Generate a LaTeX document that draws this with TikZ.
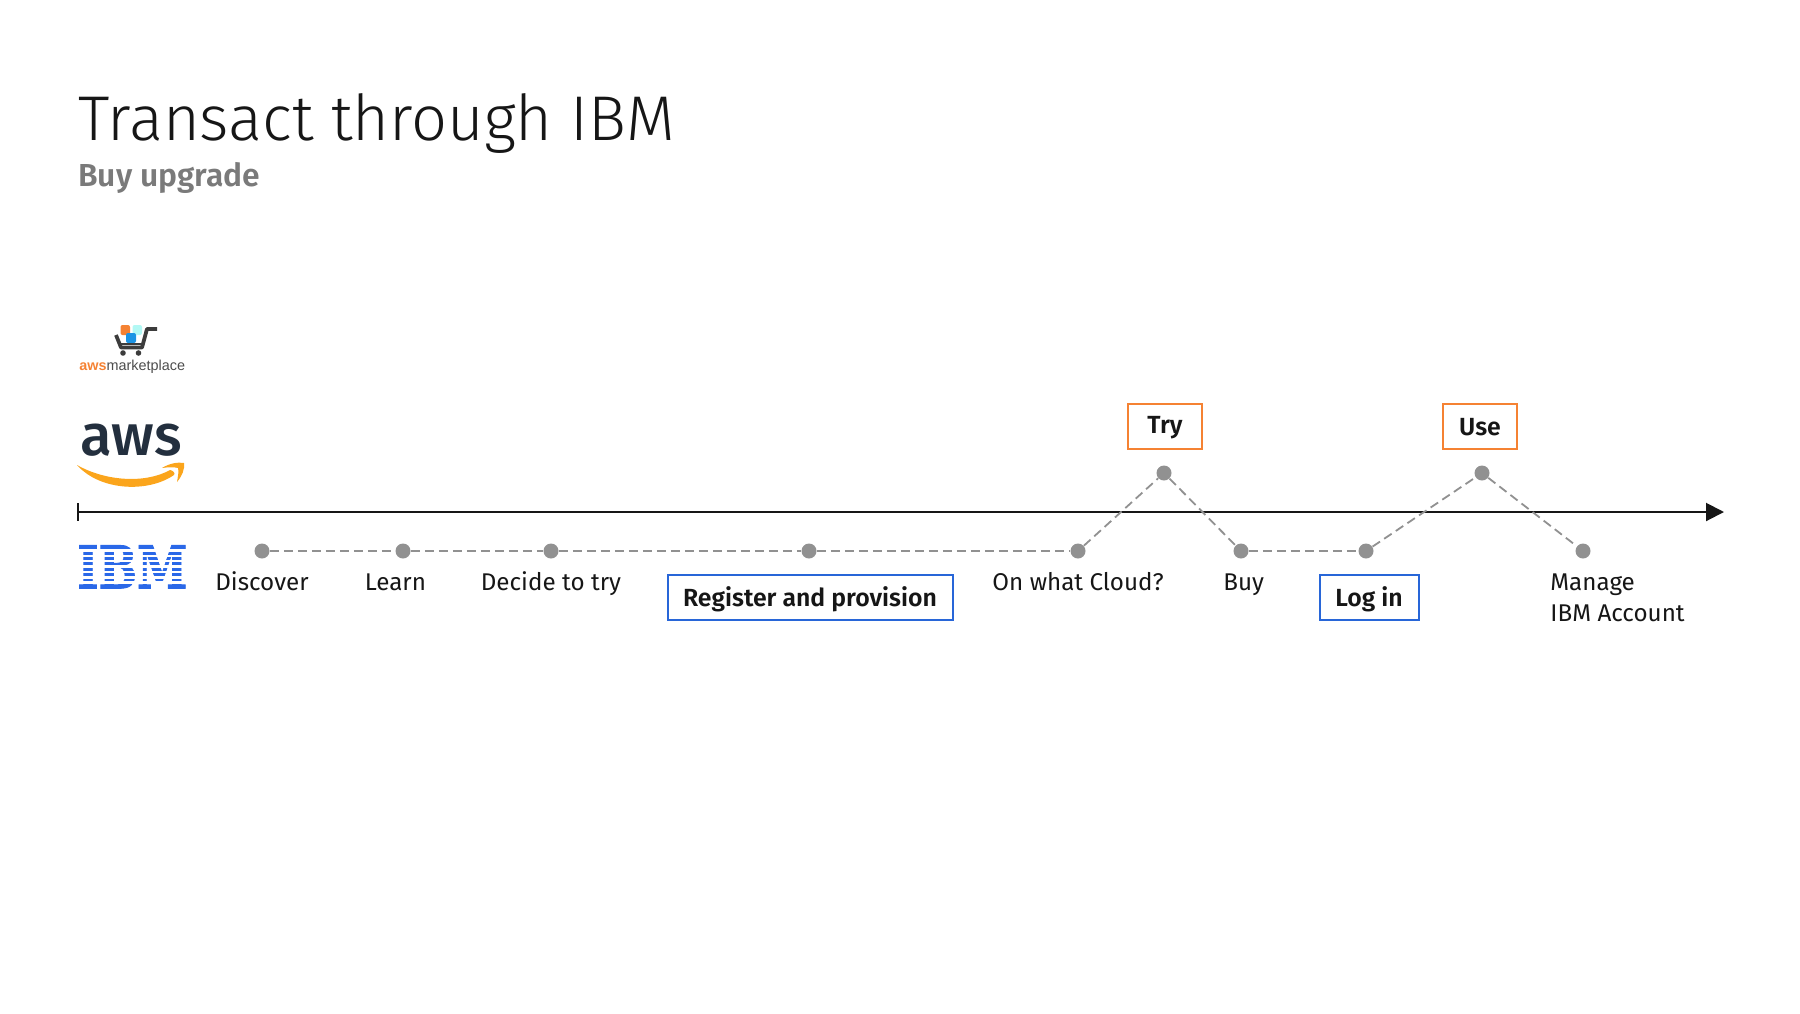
\documentclass[tikz,border=0pt]{standalone}
\usepackage{fontspec}
\usepackage{graphicx}
\setmainfont{Fira Sans}
\newfontfamily\lightfont{Fira Sans Light}
\newfontfamily\semifont{Fira Sans SemiBold}
\newfontfamily\logofont{Liberation Sans}
\newfontfamily\awsfont{Fira Sans Medium}
\newfontfamily\slabfont[FakeBold=1.5]{DejaVu Serif Bold}
\usetikzlibrary{arrows.meta}
\definecolor{inkblack}{HTML}{161616}
\definecolor{subgray}{HTML}{7A7A7A}
\definecolor{dotgray}{HTML}{919191}
\definecolor{boxorange}{HTML}{F58233}
\definecolor{boxblue}{HTML}{2866D8}
\definecolor{ibmblue}{HTML}{2A68E8}
\definecolor{awsnavy}{HTML}{232F3E}
\definecolor{awsorange}{HTML}{FBA51C}
\definecolor{cartgray}{HTML}{3C3C3C}
\tikzset{
  stepdot/.style={circle,fill=dotgray,inner sep=0pt,minimum size=7.5pt},
  stepline/.style={dotgray,line width=0.9pt,dash pattern=on 4.5pt off 2.5pt},
  steplabel/.style={anchor=base west,inner sep=0pt,text=inkblack,font=\fontsize{12.1}{15.5}\selectfont,align=left},
  tagbox/.style={draw,line width=1pt,fill=white,inner sep=0pt,minimum height=22.5pt,text height=11pt,text depth=2.5pt,text=inkblack,font=\semifont\fontsize{12.4}{14}\selectfont},
  tryuse/.style={tagbox,draw=boxorange,minimum width=37pt},
  reglog/.style={tagbox,draw=boxblue},
  cartbox/.style={rounded corners=1pt}
}
\begin{document}
\begin{tikzpicture}[x=0.5pt,y=-0.5pt]
\useasboundingbox (0,0) rectangle (1800,1013);

% Title
\node[anchor=base west,inner sep=0pt,text=inkblack,font=\lightfont\fontsize{31.6}{38}\selectfont] (title) at (78,140) {Transact through IBM};
\node[anchor=base west,inner sep=0pt,text=subgray,font=\semifont\fontsize{15.9}{20}\selectfont] (subtitle) at (78,186) {Buy upgrade};

% Timeline
\coordinate (axisstart) at (78,512);
\coordinate (axisend) at (1724,512);
\coordinate (ticktop) at (78,503);
\coordinate (tickbot) at (78,521);
\draw[inkblack,line width=1pt,-{Triangle[length=9pt,width=9pt]}] (axisstart) -- (axisend);
\draw[inkblack,line width=1pt] (ticktop) -- (tickbot);

% Steps
\node[stepdot] (discover) at (262,551) {};
\node[stepdot] (learn) at (403,551) {};
\node[stepdot] (decide) at (551,551) {};
\node[stepdot] (register) at (809,551) {};
\node[stepdot] (cloud) at (1078,551) {};
\node[stepdot] (try) at (1164,473) {};
\node[stepdot] (buy) at (1241,551) {};
\node[stepdot] (login) at (1366,551) {};
\node[stepdot] (use) at (1482,473) {};
\node[stepdot] (manage) at (1583,551) {};

% Dashed path
\draw[stepline] (discover) -- (learn);
\draw[stepline] (learn) -- (decide);
\draw[stepline] (decide) -- (register);
\draw[stepline] (register) -- (cloud);
\draw[stepline] (cloud) -- (try);
\draw[stepline] (try) -- (buy);
\draw[stepline] (buy) -- (login);
\draw[stepline] (login) -- (use);
\draw[stepline] (use) -- (manage);

% Step labels
\node[steplabel] (discoverlabel) at (215,590) {Discover};
\node[steplabel] (learnlabel) at (364.5,590) {Learn};
\node[steplabel] (decidelabel) at (480.5,590) {Decide to try};
\node[steplabel] (cloudlabel) at (992,590) {On what Cloud?};
\node[steplabel] (buylabel) at (1223,590) {Buy};
\node[steplabel] (managelabel) at (1550,621) {Manage\\IBM Account};

% Boxes
\node[tryuse,text height=9.5pt] (trybox) at (1165,426.5) {Try};
\node[tryuse] (usebox) at (1480,426.5) {Use};
\node[reglog,minimum width=142.5pt] (registerbox) at (810,597.5) {Register and provision};
\node[reglog,minimum width=49.5pt] (loginbox) at (1369,597.5) {Log in};

% AWS Marketplace logo
\fill[boxorange,cartbox] (120.5,325) rectangle (130,335);
\fill[boxorange!15!cyan!35!white,cartbox] (132.5,325) rectangle (142,335);
\fill[boxblue!70!cyan,cartbox] (126,333) rectangle (136,343);
\draw[cartgray,line width=1.9pt,line join=round] (116,335) -- (121,347.5) -- (142,347.5) -- (147,329) -- (157,329);
\draw[cartgray,line width=1pt] (119,344) -- (144,344);
\fill[cartgray] (123,353) circle (2.8) (138.5,353) circle (2.8);
\node[anchor=base west,inner sep=0pt,font=\logofont\fontsize{7.2}{9}\selectfont] (marketplace) at (79,370) {\textcolor{boxorange}{\textbf{aws}}\textcolor{black!70}{marketplace}};

% AWS logo
\node[anchor=base,inner sep=0pt,text=awsnavy,font=\awsfont\fontsize{29}{30}\selectfont] (awslogo) at (131,455) {aws};
\fill[awsorange] (77,465) .. controls (105,481) and (145,484) .. (170,470)
  .. controls (172,470) and (176,473) .. (174,475) .. controls (148,493) and (100,491) .. (77,465);
\fill[awsorange] (162,468) .. controls (170,463) and (178,462) .. (184,463)
  .. controls (185,469) and (182,476) .. (177,482) .. controls (178,476) and (179,471) .. (178,468)
  .. controls (174,467) and (169,467) .. (162,468);

% IBM logo
\node[anchor=north west,inner sep=0pt,text=ibmblue] (ibmlogo) at (77,545) {\resizebox{55pt}{21.5pt}{\slabfont IBM}};
\foreach \ypos in {550.4,555.8,561.1,566.5,571.9,577.3,582.6}
  \fill[white] (74,\ypos-1.2) rectangle (190,\ypos+1.2);
\end{tikzpicture}
\end{document}
